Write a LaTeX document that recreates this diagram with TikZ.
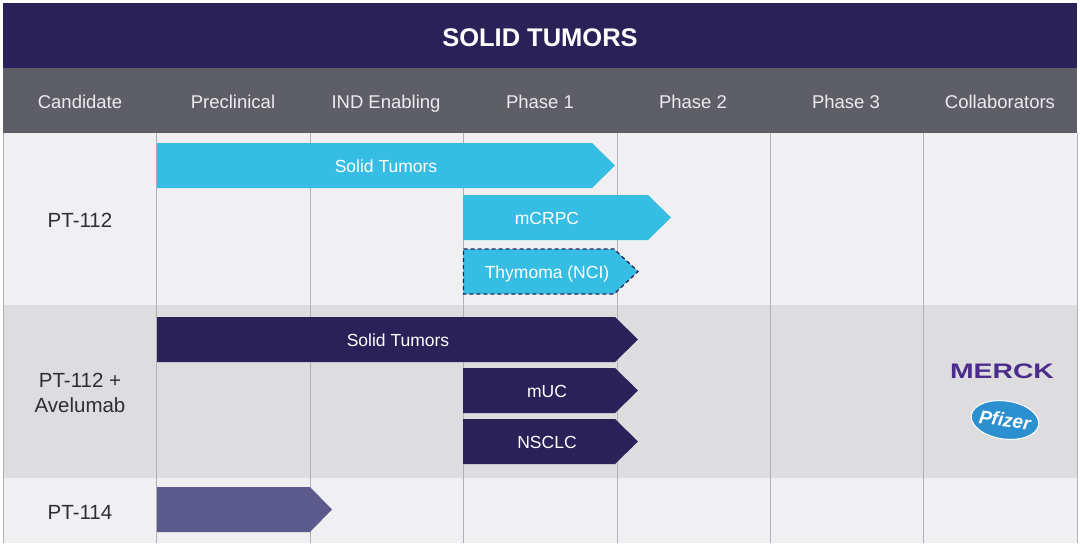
\documentclass[tikz,border=0pt]{standalone}
\usepackage{fontspec}
\setmainfont{Liberation Sans}
\usetikzlibrary{shapes.geometric}
\definecolor{navy}{HTML}{2A2159}
\definecolor{hdrgray}{HTML}{5E5E66}
\definecolor{rowlight}{HTML}{F0F0F2}
\definecolor{rowgray}{HTML}{DDDDE0}
\definecolor{gridc}{HTML}{B0B0B6}
\definecolor{sky}{HTML}{36BDE4}
\definecolor{slate}{HTML}{5C5A8C}
\definecolor{merckc}{HTML}{4B2B8C}
\definecolor{pfz}{HTML}{2C8FD0}
\definecolor{hdrtext}{HTML}{ECECEE}
\definecolor{labtext}{HTML}{2E2E33}
\tikzset{
  colhead/.style={text=hdrtext, font=\fontsize{18.5}{22}\selectfont, text height=13pt, text depth=4pt},
  rowlab/.style={text=labtext, font=\fontsize{20.5}{25}\selectfont, align=center},
  bartext/.style={text=white, font=\fontsize{17.5}{21}\selectfont, text height=12.5pt, text depth=3.5pt},
  gridline/.style={draw=gridc, line width=0.8pt}
}
\newcommand\pbar[6]{% x1, y1, xbodyend, xtip, y2, color
  \fill[#6] (#1,#2) -- (#3,#2) -- (#4,{(#2+#5)/2}) -- (#3,#5) -- (#1,#5) -- cycle;}
\begin{document}
\begin{tikzpicture}[x=1pt,y=-1pt]
\useasboundingbox (0,0) rectangle (1080,550);
\fill[white] (0,0) rectangle (1080,550);
% title band
\fill[navy] (3,3) rectangle (1077,68);
\node[text=white, font=\bfseries\fontsize{25.5}{30}\selectfont] (title) at (540,38) {SOLID TUMORS};
% column header band
\fill[hdrgray] (3,68) rectangle (1077,133);
\node[colhead] (c1) at (80,104) {Candidate};
\node[colhead] (c2) at (233,104) {Preclinical};
\node[colhead] (c3) at (386,104) {IND Enabling};
\node[colhead] (c4) at (540,104) {Phase 1};
\node[colhead] (c5) at (693,104) {Phase 2};
\node[colhead] (c6) at (846,104) {Phase 3};
\node[colhead] (c7) at (1000,104) {Collaborators};
% rows
\fill[rowlight] (3,133) rectangle (1077,305);
\fill[rowgray] (3,305) rectangle (1077,478);
\fill[rowlight] (3,478) rectangle (1077,543);
% grid lines
\foreach \xx in {3,156,310,463,617,770,923,1077}
  \draw[gridline] (\xx,133) -- (\xx,543);
% row labels
\node[rowlab] (r1) at (80,220) {PT-112};
\node[rowlab] (r2) at (80,393) {PT-112 +\\Avelumab};
\node[rowlab] (r3) at (80,512) {PT-114};
% bars row 1
\pbar{157}{143}{592}{615}{188}{sky}
\node[bartext] (b1) at (386,168) {Solid Tumors};
\pbar{463}{195}{648}{671}{240}{sky}
\node[bartext] (b2) at (547,220) {mCRPC};
\fill[sky] (463.5,249) -- (614,249) -- (638,271.5) -- (614,294) -- (463.5,294) -- cycle;
\draw[navy, line width=1.3pt, dash pattern=on 4pt off 3pt] (463.5,249) -- (614,249) -- (638,271.5) -- (614,294) -- (463.5,294) -- cycle;
\node[bartext] (b3) at (547,274) {Thymoma (NCI)};
% bars row 2
\pbar{157}{317}{615}{638}{362}{navy}
\node[bartext] (b4) at (398,342) {Solid Tumors};
\pbar{463}{368}{615}{638}{413}{navy}
\node[bartext] (b5) at (547,393) {mUC};
\pbar{463}{419}{615}{638}{464}{navy}
\node[bartext] (b6) at (547,444) {NSCLC};
% row 3
\pbar{157}{487}{310}{332}{532}{slate}
% logos
\node[text=merckc, font=\bfseries\fontsize{21}{24}\selectfont, xscale=1.35] (merck) at (1002,371) {MERCK};
\node[ellipse, fill=pfz, draw=white, line width=1pt, minimum width=68pt, minimum height=38pt, rotate=-8, inner sep=0pt] (pfizer) at (1005,420) {};
\node[text=white, font=\bfseries\itshape\fontsize{19}{22}\selectfont, rotate=-8] (pfizertext) at (pfizer.center) {Pfizer};
\end{tikzpicture}
\end{document}
